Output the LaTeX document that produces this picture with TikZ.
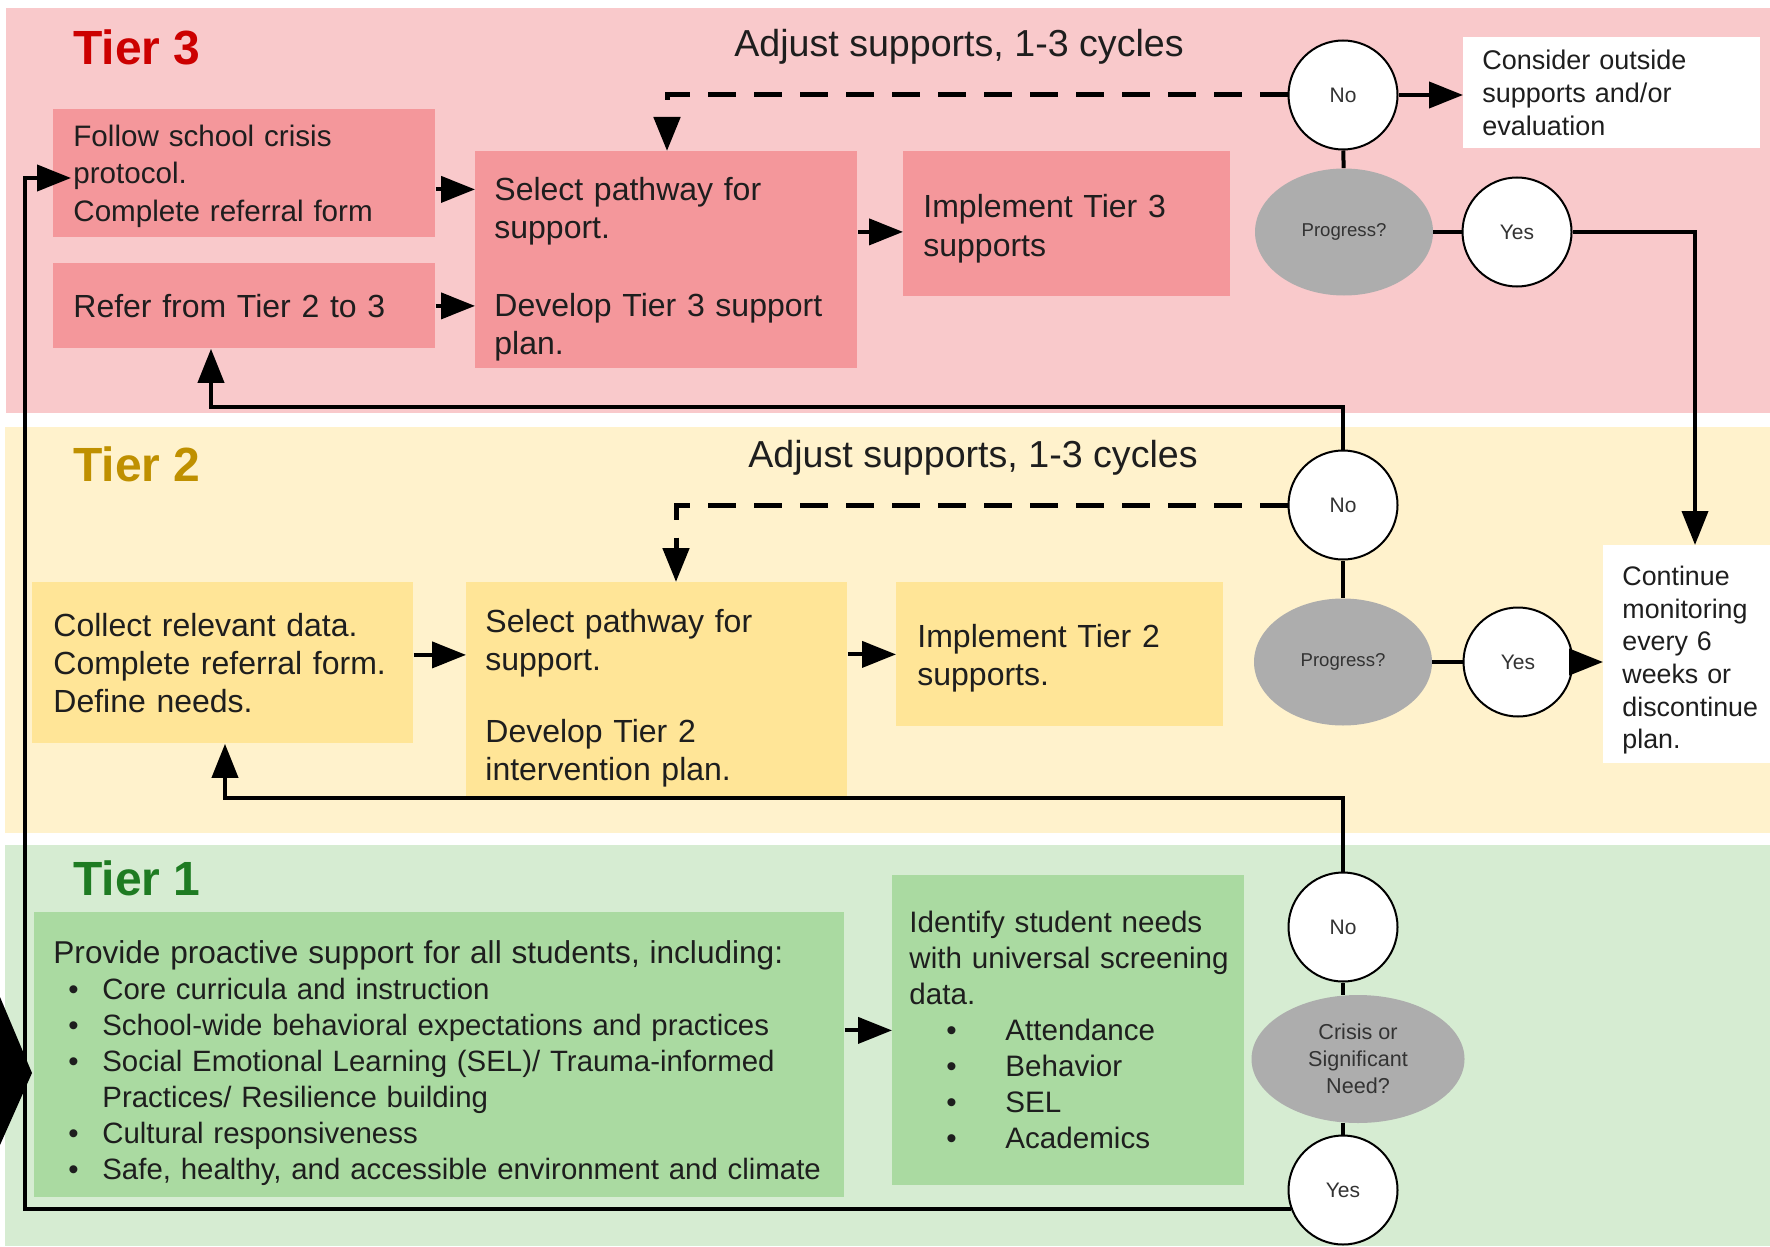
\documentclass[tikz,border=0pt]{standalone}
\usepackage{fontspec}
\setmainfont{Liberation Sans}
\usetikzlibrary{arrows.meta,shapes.geometric,calc}
\newcommand\fz[2]{\fontsize{#1pt}{#2pt}\selectfont}
\newcommand\bitem[1]{\mbox{\hspace*{7.5pt}\makebox[17pt][l]{\textbullet}#1}}
\newcommand\bitemb[1]{\mbox{\hspace*{18.5pt}\makebox[29.5pt][l]{\textbullet}#1}}
\newcommand\tstrut[1]{\rule{0pt}{#1pt}}
\definecolor{bandthree}{HTML}{F9C9CB}
\definecolor{boxthree}{HTML}{F4979B}
\definecolor{bandtwo}{HTML}{FFF2CC}
\definecolor{boxtwo}{HTML}{FFE597}
\definecolor{bandone}{HTML}{D6ECD2}
\definecolor{boxone}{HTML}{AADAA1}
\definecolor{grayq}{HTML}{ADADAD}
\definecolor{tthree}{HTML}{CC0000}
\definecolor{ttwo}{HTML}{BF9000}
\definecolor{tone}{HTML}{1E7B22}
\definecolor{ink}{HTML}{1E1E1E}
\definecolor{inktwo}{HTML}{333333}
\begin{document}
\begin{tikzpicture}[x=0.5pt,y=-0.5pt,
  box/.style={anchor=north west, inner xsep=10pt, inner ysep=0pt, align=left, text=ink},
  rnd/.style={circle, draw=black, line width=1pt, fill=white, minimum size=54.5pt, inner sep=0pt, font={\fz{10.5}{12}}, text=inktwo},
  qst/.style={ellipse, fill=grayq, inner sep=0pt, align=center, text=inktwo},
  ttl/.style={anchor=west, inner sep=0pt, font={\fz{24}{28}\bfseries}},
  adj/.style={inner sep=0pt, font={\fz{18.8}{22}}, text=ink},
  conn/.style={line width=2pt},
  arr/.style={line width=2pt, -{Triangle[length=17pt,width=13pt]}},
  dsh/.style={line width=2.5pt, dash pattern=on 14pt off 9pt, -{Triangle[length=17pt,width=13pt]}},
]
\useasboundingbox (0,0) rectangle (1770,1246);
\clip (0,0) rectangle (1770,1246);
\fill[white] (0,0) rectangle (1770,1246);
% bands
\fill[bandthree] (6,8) rectangle (1770,413);
\fill[bandtwo] (5,427) rectangle (1770,833);
\fill[bandone] (5,845) rectangle (1770,1246);
% titles
\node[ttl, text=tthree] (t3) at (73,47) {Tier 3};
\node[ttl, text=ttwo] (t2) at (73,464) {Tier 2};
\node[ttl, text=tone] (t1) at (73,878) {Tier 1};
\node[adj] (adj3) at (959,47) {Adjust supports, 1-3 cycles};
\node[adj] (adj2) at (973,458) {Adjust supports, 1-3 cycles};
% Tier 3 boxes
\node[box, fill=boxthree, text width=171pt, minimum height=64pt, font={\fz{14.8}{18.75}}] (follow) at (53,109) {\tstrut{13.3}Follow school crisis\\protocol.\\Complete referral form};
\node[box, fill=boxthree, text width=171pt, minimum height=42.5pt, font={\fz{16}{19}}] (refer) at (53,263) {Refer from Tier 2 to 3};
\node[box, fill=boxthree, inner xsep=9.5pt, text width=172pt, minimum height=108.5pt, font={\fz{16}{19}}] (select3) at (475,151) {\tstrut{20.8}Select pathway for\\support.\\[20pt]\mbox{Develop Tier 3 support}\\plan.};
\node[box, fill=boxthree, text width=143.5pt, minimum height=72.5pt, font={\fz{16}{19.5}}] (impl3) at (903,151) {\tstrut{16.3}Implement Tier 3\\supports};
\node[box, fill=white, inner xsep=9.5pt, text width=129.5pt, minimum height=55.5pt, font={\fz{13.5}{16.5}}] (consider) at (1463,37) {Consider outside\\supports and/or\\evaluation};
% Tier 2 boxes
\node[box, fill=boxtwo, inner xsep=10.5pt, text width=169.5pt, minimum height=80.5pt, font={\fz{16}{19}}] (collect) at (32,582) {Collect relevant data.\\\mbox{Complete referral form.}\\Define needs.};
\node[box, fill=boxtwo, inner xsep=9.5pt, text width=171.5pt, minimum height=107pt, font={\fz{16}{19}}] (select2) at (466,582) {\tstrut{20.8}Select pathway for\\support.\\[17pt]Develop Tier 2\\intervention plan.};
\node[box, fill=boxtwo, inner xsep=10.5pt, text width=142.5pt, minimum height=72pt, font={\fz{16}{19}}] (impl2) at (896,582) {\tstrut{15.2}Implement Tier 2\\supports.};
\node[box, fill=white, inner xsep=9.5pt, text width=64.5pt, minimum height=109pt, font={\fz{13.4}{16.3}}] (cont) at (1603,545) {\tstrut{15.5}Continue\\monitoring\\every 6\\weeks or\\\mbox{discontinue}\\plan.};
% Tier 1 boxes
\node[box, fill=boxone, inner xsep=9.5pt, text width=386pt, minimum height=142.5pt, font={\fz{14.7}{18}}] (provide) at (34,912) {\tstrut{19.7}\mbox{\fontsize{15.8pt}{18pt}\selectfont Provide proactive support for all students, including:}\\
\bitem{Core curricula and instruction}\\
\bitem{School-wide behavioral expectations and practices}\\
\bitem{Social Emotional Learning (SEL)/ Trauma-informed}\\
\mbox{\hspace*{24.5pt}Practices/ Resilience building}\\
\bitem{Cultural responsiveness}\\
\bitem{Safe, healthy, and accessible environment and climate}};
\node[box, fill=boxone, inner xsep=8.5pt, text width=159pt, minimum height=155pt, font={\fz{14.8}{18}}] (identify) at (892,875) {Identify student needs\\\mbox{with universal screening}\\data.\\
\bitemb{Attendance}\\
\bitemb{Behavior}\\
\bitemb{SEL}\\
\bitemb{Academics}};
% decision nodes
\node[rnd] (no3) at (1343,95) {No};
\node[qst, minimum width=89pt, minimum height=63.5pt, font={\fz{9.3}{11}}] (prog3) at (1344,232) {Progress?};
\node[rnd] (yes3) at (1517,232) {Yes};
\node[rnd] (no2) at (1343,505) {No};
\node[qst, minimum width=89pt, minimum height=63.5pt, font={\fz{9.3}{11}}] (prog2) at (1343,662) {Progress?};
\node[rnd] (yes2) at (1518,662) {Yes};
\node[rnd] (no1) at (1343,927) {No};
\node[qst, minimum width=106.5pt, minimum height=64pt, font={\fz{10.8}{13.5}}] (crisis) at (1358,1059) {Crisis or\\Significant\\Need?};
\node[rnd] (yes1) at (1343,1190) {Yes};
% big black arrowhead at left
\fill[black] (0,997) -- (32,1073) -- (0,1145) -- cycle;
% coordinates
\coordinate (d3) at (667,96);
\coordinate (d2) at (676,505);
\coordinate (c3) at (1695,232);
\coordinate (fb3) at (211,407);
\coordinate (fb2) at (225,798);
\coordinate (lb) at (25,1208);
\coordinate (lt) at (25,178);
\path (lt -| follow.west) coordinate (lte);
% Tier 3 connectors
\draw[arr] ([yshift=-8pt]follow.east) -- ([yshift=-8pt]follow.east -| select3.west);
\draw[arr] (refer.east) -- (refer.east -| select3.west);
\draw[arr] ([yshift=-4pt]impl3.west -| select3.east) -- ([yshift=-4pt]impl3.west);
\draw[dsh] (no3.west) -- (no3.west -| d3) -- (d3 |- select3.north);
\draw[arr] (no3.east) -- (no3.east -| consider.west);
\draw[conn] (no3) -- (prog3);
\draw[conn] (prog3) -- (yes3);
\draw[arr] (yes3.east) -- (c3) -- (c3 |- cont.north);
% Tier 2 connectors
\draw[arr] (no2.north) |- (fb3) -- (fb3 |- refer.south);
\draw[arr] ([yshift=4pt]collect.east) -- ([yshift=4pt]collect.east -| select2.west);
\draw[arr] (impl2.west -| select2.east) -- (impl2.west);
\draw[dsh] (no2.west) -- (no2.west -| d2) -- (d2 |- select2.north);
\draw[conn] (no2) -- (prog2);
\draw[conn] (prog2) -- (yes2);
\draw[arr] (yes2.east) -- (yes2.east -| cont.west);
% Tier 1 connectors
\draw[arr] (no1.north) |- (fb2) -- (fb2 |- collect.south);
\draw[arr] (identify.west -| provide.east) -- (identify.west);
\draw[conn] (no1.south) -- (no1.south |- crisis.north);
\draw[conn] (yes1.north |- crisis.south) -- (yes1.north);
\draw[arr] (yes1.200) -- (yes1.200 -| lb) -- (lt) -- ([xshift=9pt]lte);
\end{tikzpicture}
\end{document}
